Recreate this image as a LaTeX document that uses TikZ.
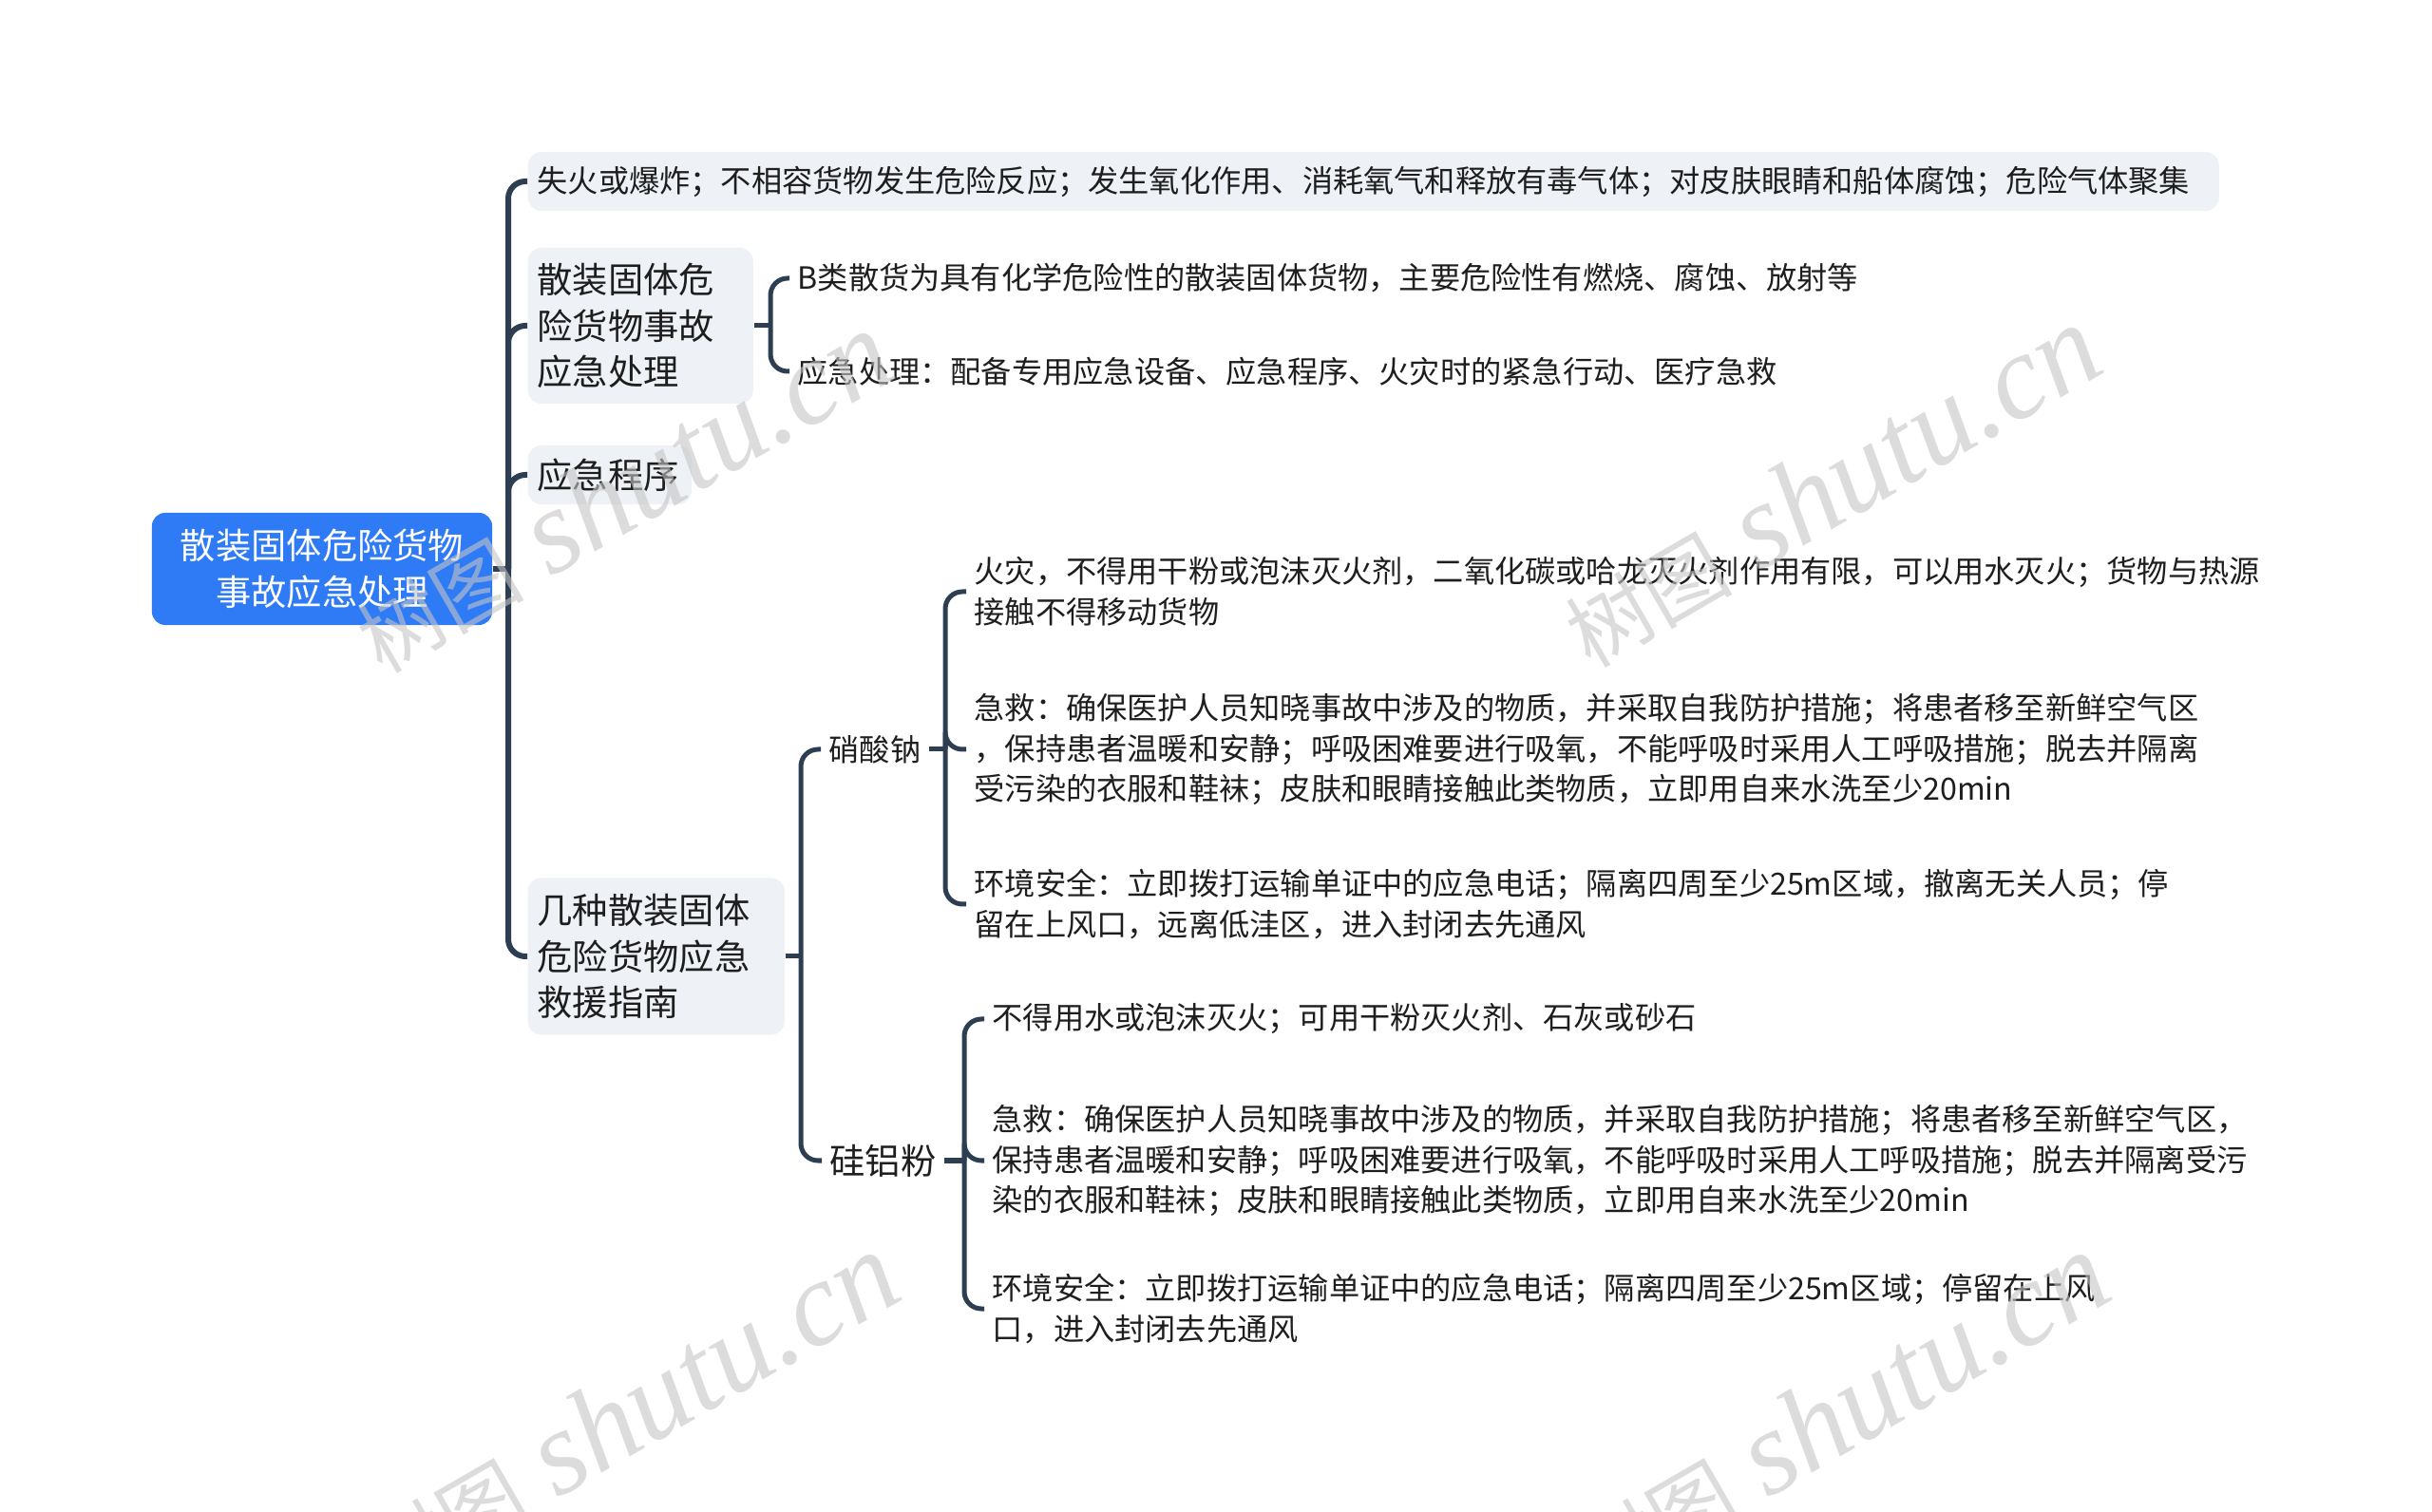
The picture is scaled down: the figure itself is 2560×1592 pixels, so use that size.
\documentclass[tikz,border=0pt]{standalone}
\usepackage{fontspec}
\setmainfont{Noto Sans CJK SC}
\newfontfamily\wmfont{Liberation Serif}
\usetikzlibrary{calc}
\definecolor{rootblue}{HTML}{2F7BF6}
\definecolor{boxgray}{HTML}{EEF1F5}
\definecolor{linkcol}{HTML}{2D3D52}
\definecolor{inkcol}{HTML}{1E1E1E}
\definecolor{wmgray}{HTML}{C4C4C4}

\begin{document}
\begin{tikzpicture}[x=0.01cm, y=-0.01cm,
  every node/.append style={text=inkcol},
  rootbox/.style={fill=rootblue, text=white, rounded corners=0.14cm, minimum width=3.58cm, minimum height=1.18cm, inner sep=0pt, align=center, font=\fontsize{10.6}{13.9}\selectfont},
  topicbox/.style={fill=boxgray, rounded corners=0.14cm, anchor=west, inner xsep=0.1cm, inner ysep=0pt, align=left, font=\fontsize{10.6}{13.9}\selectfont},
  leaf/.style={anchor=west, inner xsep=0.08cm, inner ysep=0pt, align=left, font=\fontsize{9.16}{12.2}\selectfont},
  trunk/.style={draw=linkcol, line width=0.06cm, rounded corners=0.18cm},
  link/.style={draw=linkcol, line width=0.05cm, rounded corners=0.18cm},
  wm/.style={text=wmgray, text opacity=0.6, rotate=30, inner sep=0pt, font=\fontsize{36}{36}\selectfont}]
  \useasboundingbox (0,0) rectangle (2560,1592);
  % root and first level topics
  \node[rootbox] (root) at (339,599) {散装固体危险货物\\事故应急处理};
  \node[topicbox, text width=17.59cm, minimum height=0.62cm, font=\fontsize{9.16}{12.2}\selectfont] (a) at (555,191)
    {失火或爆炸；不相容货物发生危险反应；发生氧化作用、消耗氧气和释放有毒气体；对皮肤眼睛和船体腐蚀；危险气体聚集};
  \node[topicbox, text width=2.17cm, minimum height=1.64cm] (b) at (555,343) {散装固体危\\险货物事故\\应急处理};
  \node[topicbox, text width=1.52cm, minimum height=0.62cm] (c) at (555,500) {应急程序};
  \node[topicbox, text width=2.5cm, minimum height=1.65cm] (d) at (555,1007) {几种散装固体\\危险货物应急\\救援指南};
  \coordinate (t0) at (535,599);
  \draw[trunk] (root.east) -- (t0);
  \foreach \n in {a,b,c,d}
    \draw[trunk] (t0) |- (\n.west);
  %
  % leaves of the second topic
  \node[leaf] (b1) at (831,293) {B类散货为具有化学危险性的散装固体货物，主要危险性有燃烧、腐蚀、放射等};
  \node[leaf] (b2) at (831,391) {应急处理：配备专用应急设备、应急程序、火灾时的紧急行动、医疗急救};
  \coordinate (tb) at (811,343);
  \draw[link] (b.east) -- (tb);
  \draw[link] (tb) |- (b1.west) (tb) |- (b2.west);
  %
  % the two cargoes of the last topic
  \node[leaf] (d1) at (864,789) {硝酸钠};
  \node[leaf, font=\fontsize{10.6}{13.9}\selectfont] (d2) at (865,1222) {硅铝粉};
  \coordinate (td) at (843,1007);
  \draw[link] (d.east) -- (td);
  \draw[link] (td) |- (d1.west) (td) |- (d2.west);
  %
  % leaves of the first cargo
  \node[leaf] (d11) at (1017,623) {火灾，不得用干粉或泡沫灭火剂，二氧化碳或哈龙灭火剂作用有限，可以用水灭火；货物与热源\\接触不得移动货物};
  \node[leaf] (d12) at (1017,789) {急救：确保医护人员知晓事故中涉及的物质，并采取自我防护措施；将患者移至新鲜空气区\\，保持患者温暖和安静；呼吸困难要进行吸氧，不能呼吸时采用人工呼吸措施；脱去并隔离\\受污染的衣服和鞋袜；皮肤和眼睛接触此类物质，立即用自来水洗至少20min};
  \node[leaf] (d13) at (1017,952) {环境安全：立即拨打运输单证中的应急电话；隔离四周至少25m区域，撤离无关人员；停\\留在上风口，远离低洼区，进入封闭去先通风};
  \coordinate (td1) at (995,789);
  \draw[link] (d1.east) -- (td1);
  \foreach \n in {d11,d12,d13}
    \draw[link] (td1) |- (\n.west);
  %
  % leaves of the second cargo
  \node[leaf] (d21) at (1036,1073) {不得用水或泡沫灭火；可用干粉灭火剂、石灰或砂石};
  \node[leaf] (d22) at (1036,1222) {急救：确保医护人员知晓事故中涉及的物质，并采取自我防护措施；将患者移至新鲜空气区，\\保持患者温暖和安静；呼吸困难要进行吸氧，不能呼吸时采用人工呼吸措施；脱去并隔离受污\\染的衣服和鞋袜；皮肤和眼睛接触此类物质，立即用自来水洗至少20min};
  \node[leaf] (d23) at (1036,1378) {环境安全：立即拨打运输单证中的应急电话；隔离四周至少25m区域；停留在上风\\口，进入封闭去先通风};
  \coordinate (td2) at (1015,1222);
  \draw[link] (d2.east) -- (td2);
  \foreach \n in {d21,d22,d23}
    \draw[link] (td2) |- (\n.west);
  %
  % watermarks
  \foreach \wx/\wy [count=\i] in {655/518, 1927/512, 662/1488, 1936/1488}
    \node[wm] (wm\i) at (\wx,\wy) {{\fontsize{25}{25}\selectfont 树图} {\wmfont\itshape shutu.cn}};
\end{tikzpicture}
\end{document}
